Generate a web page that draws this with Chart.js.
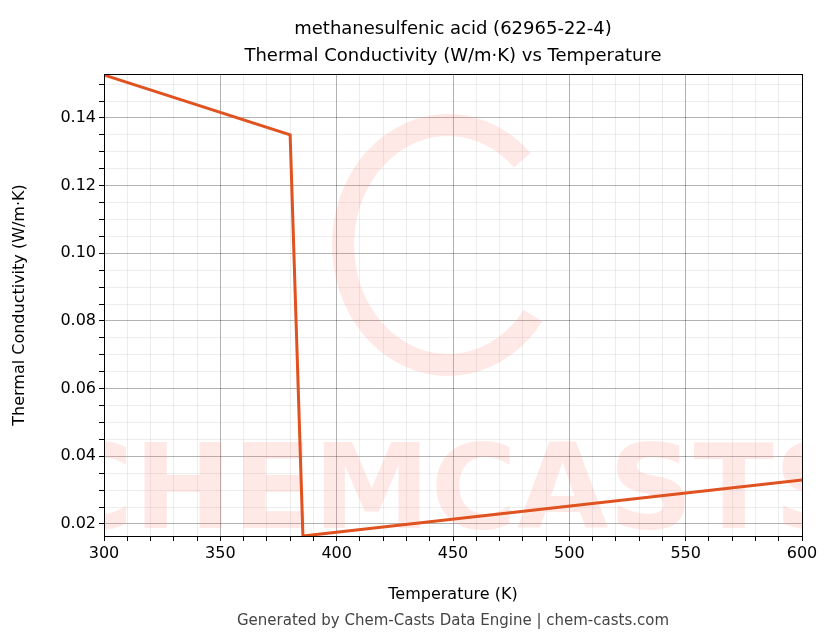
<!DOCTYPE html>
<html><head><meta charset="utf-8">
<script src="https://cdn.jsdelivr.net/npm/chart.js@4"></script>
<style>html,body{margin:0;padding:0;background:#fff}#w{width:836px;height:644px}</style>
</head><body><div id="w"><canvas id="c" width="836" height="644"></canvas></div>
<script>
const temps = [300, 380, 385.5, 600];
const conductivity = [0.1527, 0.1350, 0.01645, 0.0330];
const xMin = 300, xMax = 600, yMin = 0.01645, yMax = 0.1530;
const titleLines = ['methanesulfenic acid (62965-22-4)', 'Thermal Conductivity (W/m·K) vs Temperature'];
const footer = 'Generated by Chem-Casts Data Engine | chem-casts.com';

const isMajor = (v, step) => Math.abs(v / step - Math.round(v / step)) < 1e-6;
const extras = {
  id: 'extras',
  beforeDatasetsDraw(ch) {
    const c = ch.ctx, a = ch.chartArea;
    c.save();
    c.beginPath(); c.rect(a.left, a.top, a.right - a.left, a.bottom - a.top); c.clip();
    c.fillStyle = 'rgba(255,120,100,0.16)';
    c.font = 'bold 118px "DejaVu Sans"';
    c.textAlign = 'center'; c.textBaseline = 'alphabetic';
    c.fillText('CHEMCASTS', (a.left + a.right) / 2, a.bottom - 8);
    c.strokeStyle = 'rgba(255,120,100,0.16)'; c.lineWidth = 22;
    c.beginPath(); c.ellipse(448, 245, 105, 120, 0, 0.2 * Math.PI, 1.75 * Math.PI); c.stroke();
    c.restore();
  },
  afterDraw(ch) {
    const c = ch.ctx, a = ch.chartArea;
    c.save();
    c.strokeStyle = '#000'; c.lineWidth = 1;
    c.strokeRect(a.left + 0.5, a.top + 0.5, a.right - a.left, a.bottom - a.top);
    c.fillStyle = '#000'; c.font = '18px "DejaVu Sans"'; c.textAlign = 'center';
    c.fillText(titleLines[0], 453, 34);
    c.fillText(titleLines[1], 453, 61);
    c.fillStyle = '#444'; c.font = '15px "DejaVu Sans"';
    c.fillText(footer, 453, 625);
    c.restore();
  }
};

new Chart(document.getElementById('c'), {
  type: 'line',
  data: { datasets: [{ data: temps.map((t, i) => ({ x: t, y: conductivity[i] })),
    borderColor: '#e0521f', borderWidth: 3, pointRadius: 0, tension: 0 }] },
  options: {
    responsive: false, animation: false,
    layout: { padding: { left: 6, right: 34, top: 74, bottom: 36 } },
    plugins: { legend: { display: false }, tooltip: { enabled: false } },
    scales: {
      x: { type: 'linear', min: xMin, max: xMax,
        afterFit: s => { s.height = 72; },
        ticks: { stepSize: 10, autoSkip: false, maxRotation: 0, color: '#000', font: { family: 'DejaVu Sans', size: 16 },
          callback: v => isMajor(v, 50) ? v : '' },
        grid: { color: c => isMajor(c.tick.value, 50) ? 'rgba(0,0,0,0.3)' : 'rgba(0,0,0,0.07)', tickLength: 5, tickColor: '#000' },
        border: { color: '#000' },
        title: { display: true, text: 'Temperature (K)', color: '#000', font: { family: 'DejaVu Sans', size: 16 } } },
      y: { type: 'linear', min: yMin, max: yMax,
        afterFit: s => { s.width = 98; },
        afterBuildTicks: s => { const t = []; for (let v = 0.02; v <= yMax + 1e-9; v += 0.005) t.push({ value: +v.toFixed(3) }); s.ticks = t; },
        ticks: { autoSkip: false, color: '#000', font: { family: 'DejaVu Sans', size: 16 },
          callback: v => isMajor(v, 0.02) ? v.toFixed(2) : '' },
        grid: { color: c => isMajor(c.tick.value, 0.02) ? 'rgba(0,0,0,0.3)' : 'rgba(0,0,0,0.07)', tickLength: 5, tickColor: '#000' },
        border: { color: '#000' },
        title: { display: true, text: 'Thermal Conductivity (W/m·K)', color: '#000', font: { family: 'DejaVu Sans', size: 16 } } }
    }
  },
  plugins: [extras]
});
</script></body></html>
